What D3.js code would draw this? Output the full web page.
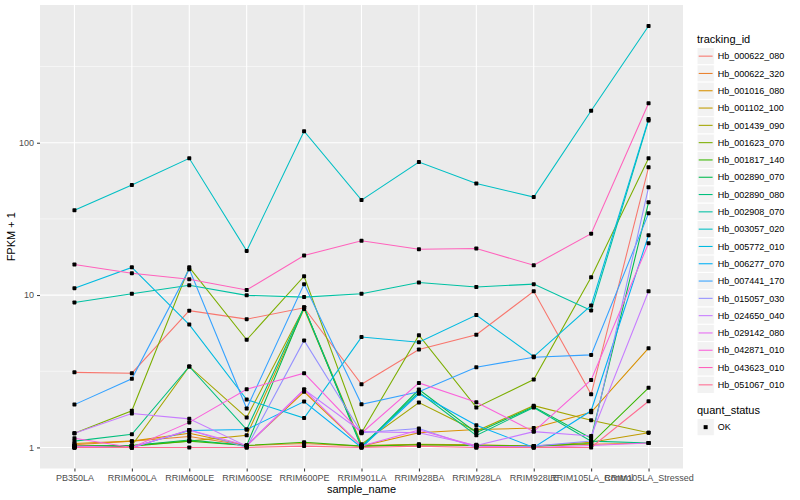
<!DOCTYPE html>
<html>
<head>
<meta charset="utf-8">
<script src="https://cdn.jsdelivr.net/npm/d3@7"></script>
<style>
  body { margin: 0; background: #fff; }
  text { font-family: "Liberation Sans", Arial, sans-serif; }
</style>
</head>
<body>
<svg id="chart" width="800" height="500"></svg>
<script>
// categories
const samples = ["PB350LA", "RRIM600LA", "RRIM600LE", "RRIM600SE", "RRIM600PE", "RRIM901LA",
  "RRIM928BA", "RRIM928LA", "RRIM928LE", "RRIM105LA_Control", "RRIM105LA_Stressed"];

const trackingIds = ["Hb_000622_080", "Hb_000622_320", "Hb_001016_080", "Hb_001102_100",
  "Hb_001439_090", "Hb_001623_070", "Hb_001817_140", "Hb_002890_070", "Hb_002890_080",
  "Hb_002908_070", "Hb_003057_020", "Hb_005772_010", "Hb_006277_070", "Hb_007441_170",
  "Hb_015057_030", "Hb_024650_040", "Hb_029142_080", "Hb_042871_010", "Hb_043623_010",
  "Hb_051067_010"];

// FPKM + 1 per sample
const hb000622_080 = [3.11, 3.07, 7.9, 6.95, 8.26, 2.6, 4.39, 5.49, 10.6, 2.23, 69];
const hb000622_320 = [1.04, 1.1, 1.18, 1.03, 1.06, 1.02, 1.04, 1.03, 1.02, 1.05, 1.07];
const hb001016_080 = [1.06, 1.1, 1.24, 1.03, 2.32, 1.02, 1.25, 1.31, 1.34, 1.7, 4.48];
const hb001102_100 = [1.02, 1.03, 1.1, 1.2, 8.1, 1.03, 1.05, 1.04, 1.02, 1.08, 1.25];
const hb001439_090 = [1.03, 1.03, 3.4, 1.57, 8.3, 1.05, 1.97, 1.28, 1.88, 1.51, 1.25];
const hb001623_070 = [1.24, 1.74, 15.2, 5.09, 13.3, 1.25, 5.45, 1.83, 2.79, 13.1, 79];
const hb001817_140 = [1.0, 1.02, 1.1, 1.03, 1.08, 1.02, 1.04, 1.03, 1.02, 1.06, 2.46];
const hb002890_070 = [1.02, 1.03, 1.12, 1.03, 8.3, 1.0, 2.4, 1.25, 1.85, 1.15, 40.6];
const hb002890_080 = [1.1, 1.22, 3.4, 1.31, 8.3, 1.02, 2.3, 1.2, 1.83, 1.1, 1.07];
const hb002908_070 = [8.95, 10.2, 11.6, 9.96, 9.7, 10.2, 12.1, 11.3, 11.8, 7.93, 140];
const hb003057_020 = [36, 52.7, 79, 19.5, 119, 42, 74.6, 54, 44, 162, 583];
const hb005772_010 = [11.1, 15.2, 6.4, 2.06, 1.56, 5.3, 4.9, 7.4, 3.95, 8.55, 143];
const hb006277_070 = [1.0, 1.0, 1.29, 1.31, 2.0, 1.0, 2.25, 1.4, 1.0, 1.74, 24.7];
const hb007441_170 = [1.91, 2.82, 14.8, 1.8, 11.8, 1.92, 2.32, 3.36, 3.91, 4.05, 34.4];
const hb015057_030 = [1.0, 1.0, 1.3, 1.0, 5.04, 1.25, 1.33, 1.0, 1.02, 1.1, 51];
const hb024650_040 = [1.24, 1.67, 1.54, 1.02, 2.4, 1.27, 1.25, 1.03, 1.27, 1.19, 10.6];
const hb029142_080 = [1.02, 1.0, 1.3, 1.03, 2.4, 1.02, 1.3, 1.02, 1.0, 1.03, 1.07];
const hb042871_010 = [1.15, 1.0, 1.46, 2.41, 3.07, 1.24, 2.65, 1.98, 1.27, 2.77, 21.9];
const hb043623_010 = [15.86, 13.9, 12.7, 10.8, 18.2, 22.7, 20, 20.2, 15.7, 25.3, 181.6];
const hb051067_010 = [1.0, 1.0, 1.0, 1.0, 1.02, 1.0, 1.02, 1.0, 1.0, 1.0, 2.01];

const seriesValues = [hb000622_080, hb000622_320, hb001016_080, hb001102_100, hb001439_090,
  hb001623_070, hb001817_140, hb002890_070, hb002890_080, hb002908_070, hb003057_020,
  hb005772_010, hb006277_070, hb007441_170, hb015057_030, hb024650_040, hb029142_080,
  hb042871_010, hb043623_010, hb051067_010];

const yTicks = [1, 10, 100];
const yMinor = [Math.sqrt(10), Math.sqrt(1000), Math.sqrt(100000)];
const quantStatus = ["OK"];

// ggplot hue palette, 20 levels
const hueColors = ["#F8766D", "#EA8331", "#D89000", "#C09B00", "#A3A500", "#7CAE00", "#39B600",
  "#00BB4E", "#00BF7D", "#00C1A3", "#00BFC4", "#00BAE0", "#00B0F6", "#35A2FF", "#9590FF",
  "#C77CFF", "#E76BF3", "#FA62DB", "#FF62BC", "#FF6C91"];

const svg = d3.select("#chart");
const panel = { left: 40, right: 683, top: 5, bottom: 468.5 };

const series = trackingIds.map((id, i) => ({
  id: id,
  color: hueColors[i],
  points: samples.map((s, j) => ({ sample: s, value: seriesValues[i][j] }))
}));

const x = d3.scalePoint()
  .domain(samples)
  .range([panel.left, panel.right])
  .padding(0.6);

// log scale with ggplot's 5% expansion
const allVals = seriesValues.flat();
const lmin = Math.log10(d3.min(allVals));
const lmax = Math.log10(d3.max(allVals));
const pad = (lmax - lmin) * 0.05;
const y = d3.scaleLog()
  .domain([Math.pow(10, lmin - pad), Math.pow(10, lmax + pad)])
  .range([panel.bottom, panel.top]);

// panel background
svg.append("rect")
  .attr("x", panel.left).attr("y", panel.top)
  .attr("width", panel.right - panel.left).attr("height", panel.bottom - panel.top)
  .attr("fill", "#EBEBEB");

// grid
const grid = svg.append("g");
grid.selectAll(".minor").data(yMinor).enter().append("line")
  .attr("x1", panel.left).attr("x2", panel.right)
  .attr("y1", d => y(d)).attr("y2", d => y(d))
  .attr("stroke", "#fff").attr("stroke-width", 0.55);
grid.selectAll(".major").data(yTicks).enter().append("line")
  .attr("x1", panel.left).attr("x2", panel.right)
  .attr("y1", d => y(d)).attr("y2", d => y(d))
  .attr("stroke", "#fff").attr("stroke-width", 1.1);
grid.selectAll(".vmajor").data(samples).enter().append("line")
  .attr("x1", d => x(d)).attr("x2", d => x(d))
  .attr("y1", panel.top).attr("y2", panel.bottom)
  .attr("stroke", "#fff").attr("stroke-width", 1.1);

// lines
const line = d3.line()
  .x(d => x(d.sample))
  .y(d => y(d.value));

svg.append("g")
  .selectAll("path")
  .data(series)
  .enter().append("path")
  .attr("d", d => line(d.points))
  .attr("fill", "none")
  .attr("stroke", d => d.color)
  .attr("stroke-width", 1.07);

// points
svg.append("g")
  .selectAll("rect")
  .data(series.flatMap(s => s.points))
  .enter().append("rect")
  .attr("x", d => x(d.sample) - 2)
  .attr("y", d => y(d.value) - 2)
  .attr("width", 4).attr("height", 4)
  .attr("rx", 0.8)
  .attr("fill", "#000");

// y axis
const yAxis = svg.append("g")
  .attr("transform", `translate(${panel.left},0)`)
  .call(d3.axisLeft(y).tickValues(yTicks).tickFormat(d3.format("d")).tickSize(3).tickPadding(3));
yAxis.select(".domain").remove();
yAxis.selectAll("line").attr("stroke", "#333");
yAxis.selectAll("text").attr("fill", "#4D4D4D").style("font-size", "9px")
  .style("font-family", "Liberation Sans, Arial, sans-serif");

// x axis
const xAxis = svg.append("g")
  .attr("transform", `translate(0,${panel.bottom})`)
  .call(d3.axisBottom(x).tickSize(3).tickPadding(3));
xAxis.select(".domain").remove();
xAxis.selectAll("line").attr("stroke", "#333");
xAxis.selectAll("text").attr("fill", "#4D4D4D").style("font-size", "9px")
  .style("font-family", "Liberation Sans, Arial, sans-serif");

// axis titles
svg.append("text")
  .attr("x", (panel.left + panel.right) / 2).attr("y", 493)
  .attr("text-anchor", "middle").style("font-size", "11px").attr("fill", "#000")
  .text("sample_name");
svg.append("text")
  .attr("transform", `translate(15,${(panel.top + panel.bottom) / 2}) rotate(-90)`)
  .attr("text-anchor", "middle").style("font-size", "11px").attr("fill", "#000")
  .text("FPKM + 1");

// legend: tracking_id
const legX = 697, keySize = 17.3, legTop = 47.5;
svg.append("text").attr("x", legX).attr("y", 43)
  .style("font-size", "11px").attr("fill", "#000").text("tracking_id");
const leg = svg.append("g").selectAll("g")
  .data(series).enter().append("g")
  .attr("transform", (d, i) => `translate(${legX},${legTop + i * keySize})`);
leg.append("rect")
  .attr("width", keySize).attr("height", keySize)
  .attr("fill", "#F2F2F2").attr("stroke", "#fff").attr("stroke-width", 1);
leg.append("line")
  .attr("x1", 1.7).attr("x2", keySize - 1.7)
  .attr("y1", keySize / 2).attr("y2", keySize / 2)
  .attr("stroke", d => d.color).attr("stroke-width", 1.07);
leg.append("text")
  .attr("x", keySize + 3.5).attr("y", keySize / 2 + 3.2)
  .style("font-size", "9px").attr("fill", "#000")
  .text(d => d.id);

// legend: quant_status
const qTop = legTop + trackingIds.length * keySize + 25;
svg.append("text").attr("x", legX).attr("y", qTop - 4.5)
  .style("font-size", "11px").attr("fill", "#000").text("quant_status");
const qLeg = svg.append("g").selectAll("g")
  .data(quantStatus).enter().append("g")
  .attr("transform", (d, i) => `translate(${legX},${qTop + i * keySize})`);
qLeg.append("rect")
  .attr("width", keySize).attr("height", keySize)
  .attr("fill", "#F2F2F2").attr("stroke", "#fff");
qLeg.append("rect")
  .attr("x", keySize / 2 - 2).attr("y", keySize / 2 - 2)
  .attr("width", 4).attr("height", 4).attr("fill", "#000");
qLeg.append("text")
  .attr("x", keySize + 3.5).attr("y", keySize / 2 + 3.2)
  .style("font-size", "9px").attr("fill", "#000")
  .text(d => d);
</script>
</body>
</html>
